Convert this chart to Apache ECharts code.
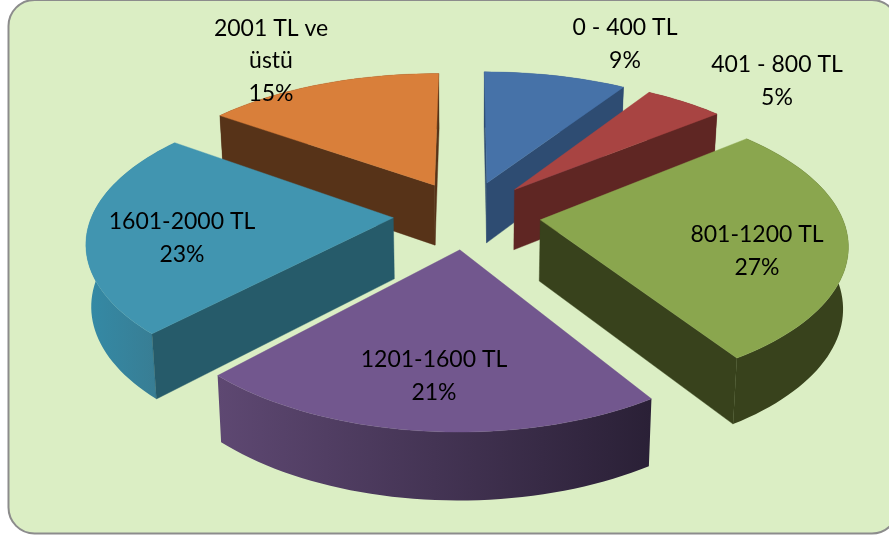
<!DOCTYPE html>
<html>
<head>
<meta charset="utf-8">
<style>html,body{margin:0;padding:0;background:#fff}#chart{width:889px;height:535px}</style>
<script src="https://cdn.jsdelivr.net/npm/echarts@6/dist/echarts.min.js"></script>
</head>
<body>
<div id="chart"></div>
<script>
// Gelir dağılımı: exploded 3D-style pie
const categories = ['0 - 400 TL', '401 - 800 TL', '801-1200 TL', '1201-1600 TL', '1601-2000 TL', '2001 TL ve\nüstü'];
const shares = [9, 5, 27, 21, 23, 15];

const topColors = ['#4672A8', '#A84442', '#8AA64E', '#72578E', '#4195B0', '#D97F3A'];
const cutColors = ['#2E4C72', '#5F2623', '#38421C', '#2C2138', '#265B6A', '#573318'];
const wallStops = [
  ['#2E4C72', '#2E4C72'], ['#5F2623', '#5F2623'], ['#38421C', '#38421C'],
  ['#5E4872', '#2A2036'], ['#348AA6', '#397A8F'], ['#573318', '#573318']
];

// far slices are painted first so nearer ones overlap them
const paintOrder = [0, 5, 1, 4, 2, 3];

// projection of the tilted disc onto the page
const view = { cx: 467, cy: 214.5, rx: 301, ry: 139, persp: 0.165, perspX: 0.15, depth: 61, explode: 0.245, taper: 0.014 };

// centre of each label block on the page
const labelAt = [[625, 44], [777, 81], [757, 251], [434, 376], [182, 238], [271, 61]];

const total = shares.reduce((a, b) => a + b, 0);
let acc = 0;
const spans = shares.map(v => {
  const a0 = acc / total * Math.PI * 2;
  acc += v;
  return [a0, acc / total * Math.PI * 2];
});

function project(u, v, level) {
  const s = 1 / (1 - view.persp * v);
  const sx = 1 / (1 - view.perspX * v);
  return [
    view.cx + view.rx * u * sx * (1 - level * view.taper),
    view.cy + view.ry * v * s + level * view.depth * Math.sqrt(s)
  ];
}

function signedArea(pts) {
  let a = 0;
  pts.forEach((p, i) => {
    const q = pts[(i + 1) % pts.length];
    a += p[0] * q[1] - q[0] * p[1];
  });
  return a / 2;
}

function polygon(points, fill) {
  return { type: 'polygon', shape: { points }, style: { fill, stroke: fill, lineWidth: 0.4 } };
}

function renderSlice(params) {
  const i = paintOrder[params.dataIndex];
  const [a0, a1] = spans[i];
  const mid = (a0 + a1) / 2;
  const ou = view.explode * Math.sin(mid);
  const ov = -view.explode * Math.cos(mid);
  const rim = level => {
    const pts = [];
    const steps = Math.max(6, Math.ceil((a1 - a0) / 0.03));
    for (let k = 0; k <= steps; k++) {
      const a = a0 + (a1 - a0) * k / steps;
      pts.push(project(ou + Math.sin(a), ov - Math.cos(a), level));
    }
    return pts;
  };
  const topRim = rim(0);
  const botRim = rim(1);
  const apexTop = project(ou, ov, 0);
  const apexBot = project(ou, ov, 1);
  const children = [];

  // outer wall
  const wall = polygon(topRim.concat(botRim.slice().reverse()), cutColors[i]);
  const xs = topRim.map(p => p[0]);
  wall.style.fill = new echarts.graphic.LinearGradient(
    Math.min(...xs), 0, Math.max(...xs), 0,
    [{ offset: 0, color: wallStops[i][0] }, { offset: 1, color: wallStops[i][1] }], true
  );
  wall.style.stroke = null;
  children.push(wall);

  // radial cut faces, only the ones turned toward the viewer
  const first = [apexTop, topRim[0], botRim[0], apexBot];
  const last = [apexTop, topRim[topRim.length - 1], botRim[botRim.length - 1], apexBot];
  if (signedArea(first) < 0) children.push(polygon(first, cutColors[i]));
  if (signedArea(last) > 0) children.push(polygon(last, cutColors[i]));

  // top face
  children.push(polygon([apexTop].concat(topRim), topColors[i]));
  return { type: 'group', children };
}

function renderLabel(params) {
  const i = params.dataIndex;
  return {
    type: 'text',
    style: {
      x: labelAt[i][0],
      y: labelAt[i][1],
      text: categories[i] + '\n' + shares[i] + '%',
      align: 'center',
      verticalAlign: 'middle',
      fill: '#000',
      font: '23px Lato',
      lineHeight: 32.5
    }
  };
}

const chart = echarts.init(document.getElementById('chart'), null, { renderer: 'canvas' });
chart.setOption({
  animation: false,
  backgroundColor: '#ffffff',
  graphic: [{
    type: 'rect',
    z: -1,
    shape: { x: 8.5, y: 0, width: 889.5, height: 533.5, r: 26 },
    style: { fill: '#DBEEC4', stroke: '#8C8C8C', lineWidth: 2 }
  }],
  series: [
    { type: 'custom', coordinateSystem: 'none', data: paintOrder.map(i => shares[i]), renderItem: renderSlice, silent: true, z: 2 },
    { type: 'custom', coordinateSystem: 'none', data: shares, renderItem: renderLabel, silent: true, z: 3 }
  ]
});
</script>
</body>
</html>
